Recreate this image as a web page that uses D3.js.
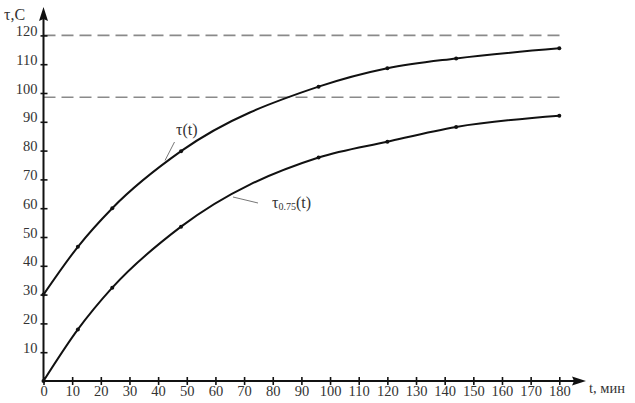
<!DOCTYPE html>
<html><head><meta charset="utf-8">
<script src="https://cdn.jsdelivr.net/npm/d3@7"></script>
<style>body{margin:0;background:#fff}svg{display:block}svg text{font-family:'Liberation Serif','Times New Roman',Tinos,'DejaVu Serif',serif !important}</style>
</head><body><svg id="c" width="635" height="403"></svg>
<script>
const tValues = [0, 12, 24, 48, 96, 120, 144, 180];
const tauValues = [30, 46.6, 60, 79.8, 102.2, 108.6, 112, 115.5];
const tau075Values = [0, 17.9, 32.4, 53.6, 77.6, 83.1, 88.2, 92.1];
const dashedLevels = [120, 98.5];
const xTicks = d3.range(0, 181, 10);
const yTicks = d3.range(10, 121, 10);

const svg = d3.select("#c");
const x = d3.scaleLinear().domain([0, 180]).range([43.5, 559.3]);
const y = d3.scaleLinear().domain([0, 120]).range([381, 35.4]);
const ink = "#111", lab = "#333";

svg.selectAll(".dash").data(dashedLevels).join("line")
  .attr("x1", x(0)).attr("x2", x(182)).attr("y1", d => y(d)).attr("y2", d => y(d))
  .attr("stroke", "#8a8a8a").attr("stroke-width", 1.6).attr("stroke-dasharray", "12,6");

const xAxis = svg.append("g").attr("transform", `translate(0,${y(0)})`)
  .call(d3.axisBottom(x).tickValues(xTicks).tickSize(4).tickFormat(d3.format("d")));
xAxis.attr("font-family", null);
xAxis.select(".domain").remove();
xAxis.selectAll(".tick line").attr("y1", -4).attr("y2", 4).attr("stroke", ink).attr("stroke-width", 1.6);
xAxis.selectAll(".tick text").attr("y", 15).attr("dy", 0).attr("fill", lab).style("font-size", "14.5px");

const yAxis = svg.append("g").attr("transform", `translate(${x(0)},0)`)
  .call(d3.axisLeft(y).tickValues(yTicks).tickSize(4).tickFormat(d3.format("d")));
yAxis.attr("font-family", null);
yAxis.select(".domain").remove();
yAxis.selectAll(".tick line").attr("x1", -3).attr("x2", 4).attr("stroke", ink).attr("stroke-width", 1.6);
yAxis.selectAll(".tick text").attr("x", -6).attr("dy", 0).attr("fill", lab).style("font-size", "14.5px");

svg.append("line").attr("x1", x(0)).attr("x2", 578).attr("y1", y(0)).attr("y2", y(0))
  .attr("stroke", ink).attr("stroke-width", 2);
svg.append("path").attr("d", `M586,${y(0)} L572,${y(0)-4.5} L574,${y(0)} L572,${y(0)+4.5} Z`).attr("fill", ink);
svg.append("line").attr("x1", x(0)).attr("x2", x(0)).attr("y1", y(0)).attr("y2", 16)
  .attr("stroke", ink).attr("stroke-width", 2);
svg.append("path").attr("d", `M${x(0)},7 L${x(0)-4.5},21 L${x(0)},19 L${x(0)+4.5},21 Z`).attr("fill", ink);

svg.append("text").attr("x", 4).attr("y", 20).attr("fill", lab).style("font-size", "16px").text("τ,С");
svg.append("text").attr("x", 589).attr("y", 393).attr("fill", lab).style("font-size", "14.5px").text("t, мин");

const line = d3.line().x((d, i) => x(tValues[i])).y(d => y(d)).curve(d3.curveMonotoneX);
[tauValues, tau075Values].forEach(vals => {
  svg.append("path").attr("d", line(vals)).attr("fill", "none").attr("stroke", ink).attr("stroke-width", 2);
  svg.append("g").selectAll("circle").data(vals).join("circle")
    .attr("cx", (d, i) => x(tValues[i])).attr("cy", d => y(d)).attr("r", 2).attr("fill", ink);
});

svg.append("line").attr("x1", 165).attr("y1", 160.5).attr("x2", 174.5).attr("y2", 142)
  .attr("stroke", "#777").attr("stroke-width", 1);
svg.append("text").attr("x", 176).attr("y", 135).attr("fill", lab).style("font-size", "16px").text("τ(t)");
svg.append("line").attr("x1", 233).attr("y1", 197).attr("x2", 258).attr("y2", 203)
  .attr("stroke", "#777").attr("stroke-width", 1);
const t2 = svg.append("text").attr("x", 272).attr("y", 208).attr("fill", lab).style("font-size", "16px");
t2.append("tspan").text("τ");
t2.append("tspan").style("font-size", "10px").attr("dy", 2).text("0.75");
t2.append("tspan").attr("dy", -2).text("(t)");
</script></body></html>
